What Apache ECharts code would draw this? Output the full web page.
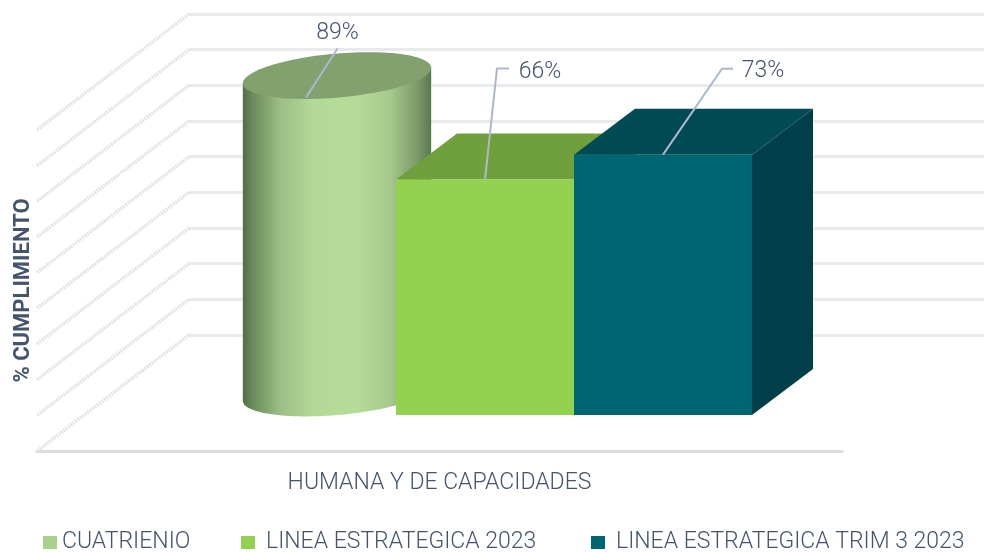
<!DOCTYPE html>
<html><head><meta charset="utf-8">
<style>html,body{margin:0;padding:0;background:#fff}#c{width:984px;height:553px}</style>
<script src="https://cdn.jsdelivr.net/npm/echarts@6/dist/echarts.min.js"></script>
</head><body><div id="c"></div>
<script>
const categories = ['HUMANA Y DE CAPACIDADES'];
const seriesNames = ['CUATRIENIO', 'LINEA ESTRATEGICA 2023', 'LINEA ESTRATEGICA TRIM 3 2023'];
const cuatrienio = [89];
const linea2023 = [66];
const lineaTrim3 = [73];
const yTicks = [0, 10, 20, 30, 40, 50, 60, 70, 80, 90];
const axisTitle = '% CUMPLIMIENTO';

const FONT = 'Roboto, sans-serif';
const TXT = '#44546A';
const LEAD = '#ADB9CA';
const FLOOR_LIFT = 36, CYL_LIFT = 58, DX = 61, DY = 46;

function leaderAndLabel(base, value, pts, tx, ty) {
  const mapped = pts.map(p => [base[0] + p[0], base[1] + p[1]]);
  return [
    {type:'polyline', shape:{points:mapped}, style:{stroke:LEAD, lineWidth:2, fill:null}, z2:20},
    {type:'text', style:{text:value+'%', x:base[0]+tx, y:base[1]+ty, fill:TXT, font:'300 23px '+FONT, align:'center', verticalAlign:'middle'}, z2:21}
  ];
}
function boxItem(cx, w, colors, leader) {
  return function(params, api) {
    const v = api.value(1);
    const c = api.coord([api.value(0), v]);
    const b = api.coord([api.value(0), 0]);
    const x0 = c[0] + cx - w/2, x1 = x0 + w;
    const yT = c[1] - FLOOR_LIFT, yB = b[1] - FLOOR_LIFT;
    return {type:'group', children:[
      {type:'polygon', shape:{points:[[x1,yT],[x1+DX,yT-DY],[x1+DX,yB-DY],[x1,yB]]}, style:{fill:colors[2]}},
      {type:'polygon', shape:{points:[[x0,yT],[x0+DX,yT-DY],[x1+DX,yT-DY],[x1,yT]]}, style:{fill:colors[1]}},
      {type:'rect', shape:{x:x0,y:yT,width:w,height:yB-yT}, style:{fill:colors[0]}}
    ].concat(leaderAndLabel([x0+w/2, yT], v, leader.pts, leader.tx, leader.ty))};
  };
}
function cylItem(params, api) {
  const v = api.value(1);
  const c = api.coord([api.value(0), v]);
  const b = api.coord([api.value(0), 0]);
  const a = 94.5, r = 22, phi = -5*Math.PI/180;
  const cx = c[0] - 102.5;
  const yT = c[1] - CYL_LIFT, yB = b[1] - CYL_LIFT;
  const t0 = Math.atan(-(r/a)*Math.tan(phi));
  const E = (t, y) => [cx + a*Math.cos(t)*Math.cos(phi) - r*Math.sin(t)*Math.sin(phi),
                       y + a*Math.cos(t)*Math.sin(phi) + r*Math.sin(t)*Math.cos(phi)];
  const top = [], body = [E(t0+Math.PI, yT)];
  for (let i = 0; i <= 60; i++) body.push(E(t0 + Math.PI - Math.PI*i/60, yB));
  body.push(E(t0, yT));
  for (let i = 0; i <= 120; i++) top.push(E(Math.PI*2*i/120, yT));
  const grad = new echarts.graphic.LinearGradient(0,0,1,0,[
    {offset:0,color:'#4F6E45'},{offset:0.05,color:'#6A8A5C'},{offset:0.2,color:'#9DBF84'},
    {offset:0.38,color:'#B3D997'},{offset:0.6,color:'#B5DC98'},{offset:0.78,color:'#A6C98D'},
    {offset:0.92,color:'#7E9C6B'},{offset:1,color:'#5A7850'}]);
  return {type:'group', children:[
    {type:'polygon', shape:{points:body}, style:{fill:grad}},
    {type:'polygon', shape:{points:top}, style:{fill:'#83A06F'}}
  ].concat(leaderAndLabel([cx, yT], v, [[-31,22],[0.5,-27]], 0.5, -42))};
}
function diagItem(params, api) {
  const y = api.coord([0, api.value(0)])[1];
  const x = params.coordSys.x;
  return {type:'line', shape:{x1:x, y1:y, x2:x-152, y2:y+116},
    style:{stroke:'#E2E4E7', lineWidth:3.5, lineDash:[2,1]}};
}
const legendAt = (i, left, pad) => ({
  data:[seriesNames[i]], left, top:531, padding:0, icon:'rect', itemWidth:14, itemHeight:13, selectedMode:false,
  textStyle:{color:TXT, fontFamily:FONT, fontSize:23, fontWeight:300, padding:[0,0,0,pad]}
});
const chart = echarts.init(document.getElementById('c'), null, {renderer:'canvas'});
chart.setOption({
  animation:false, backgroundColor:'#fff',
  legend:[legendAt(0,43,0), legendAt(1,241,6), legendAt(2,591,6)],
  grid:[
    {left:189, top:14, width:795, height:321, outerBoundsMode:'none'},
    {left:37, top:130, width:805, height:321, outerBoundsMode:'none'}
  ],
  xAxis:[
    {gridIndex:0, type:'category', data:categories, show:false},
    {gridIndex:1, type:'category', data:categories,
     axisLine:{lineStyle:{color:'#DADCE0',width:3}}, axisTick:{show:false},
     axisLabel:{color:TXT, fontFamily:FONT, fontSize:23, fontWeight:300, margin:21}}
  ],
  yAxis:[
    {gridIndex:0, type:'value', min:0, max:90, interval:10, axisLine:{show:false}, axisTick:{show:false},
     axisLabel:{show:false}, splitLine:{lineStyle:{color:'#E8EAEE',width:3}}},
    {gridIndex:1, type:'value', min:0, max:90, interval:10, axisLine:{show:false}, axisTick:{show:false},
     axisLabel:{show:false}, splitLine:{show:false},
     name:axisTitle, nameLocation:'middle', nameGap:3, nameRotate:90,
     nameTextStyle:{color:TXT, fontFamily:FONT, fontSize:22, fontWeight:'bold'}}
  ],
  series:[
    {type:'custom', name:'ticks', xAxisIndex:0, yAxisIndex:0, data:yTicks.map(v=>[v]), encode:{y:0}, renderItem:diagItem, silent:true, z:1},
    {type:'custom', name:seriesNames[0], xAxisIndex:1, yAxisIndex:1, data:cuatrienio.map((v,i)=>[i,v]), encode:{x:0,y:1}, renderItem:cylItem, itemStyle:{color:'#A9D18E'}, z:3},
    {type:'custom', name:seriesNames[1], xAxisIndex:1, yAxisIndex:1, data:linea2023.map((v,i)=>[i,v]), encode:{x:0,y:1}, itemStyle:{color:'#92D050'}, z:4,
     renderItem:boxItem(45.5,178,['#92D250','#70A03C','#5F8A33'],{pts:[[0,0],[12,-111],[24,-111]],tx:55,ty:-107})},
    {type:'custom', name:seriesNames[2], xAxisIndex:1, yAxisIndex:1, data:lineaTrim3.map((v,i)=>[i,v]), encode:{x:0,y:1}, itemStyle:{color:'#006573'}, z:5,
     renderItem:boxItem(223.5,178,['#006573','#004A54','#003F49'],{pts:[[0,0],[59,-86],[70,-86]],tx:100,ty:-83})}
  ]
});
</script></body></html>
